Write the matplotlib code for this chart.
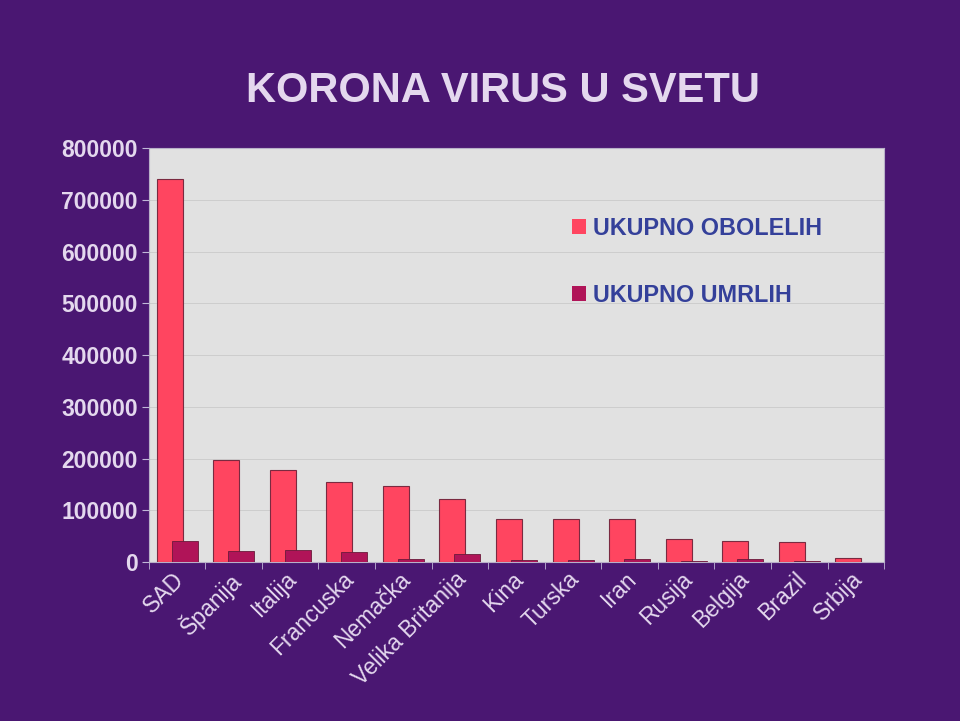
import matplotlib
matplotlib.use("Agg")
import matplotlib.pyplot as plt
import numpy as np
from matplotlib.transforms import ScaledTranslation

countries = ["SAD", "Španija", "Italija", "Francuska", "Nemačka", "Velika Britanija",
             "Kina", "Turska", "Iran", "Rusija", "Belgija", "Brazil", "Srbija"]
oboleli = [740000, 197000, 177000, 154000, 146000, 121000,
           84000, 83000, 83000, 44000, 40000, 38000, 7000]
umrli = [41000, 21000, 24000, 20000, 5000, 16000,
         4600, 3000, 5200, 1500, 6000, 2800, 800]
yticks = [0, 100000, 200000, 300000, 400000, 500000, 600000, 700000, 800000]

plt.rcParams['font.family'] = ['Liberation Sans', 'DejaVu Sans']

BG = '#4a1772'
PLOT = '#e1e1e1'
TXT = '#e4d8ee'

fig = plt.figure(figsize=(9.6, 7.21), dpi=100, facecolor=BG)
ax = fig.add_axes([0.155, 0.2205, 0.766, 0.5742])
ax.set_facecolor(PLOT)

x = np.arange(len(countries))
w = 0.46
ax.bar(x - 0.133, oboleli, width=w, color='#ff4560', edgecolor='#7a2a40', linewidth=0.8,
       label='UKUPNO OBOLELIH', zorder=3)
ax.bar(x + 0.133, umrli, width=w, color='#b01458', edgecolor='#6a1a3a', linewidth=0.6,
       label='UKUPNO UMRLIH', zorder=4)

ax.set_xlim(-0.5, len(countries) - 0.5)
ax.set_ylim(0, 800000)
ax.set_yticks(yticks)
ax.set_yticklabels([str(v) for v in yticks], fontsize=16.5, fontweight='bold', color=TXT)
ax.yaxis.grid(True, color='#cdcdcd', linewidth=0.7, zorder=0)
ax.set_axisbelow(True)

ax.set_xticks(x)
ax.set_xticklabels(countries, rotation=45, ha='right', rotation_mode='anchor',
                   fontsize=16.5, color=TXT)
ax.tick_params(axis='x', length=0, pad=4)
offset = ScaledTranslation(-5 / 100, 0, fig.dpi_scale_trans)
for lab in ax.get_xticklabels():
    lab.set_transform(lab.get_transform() + offset)
ax.set_xticks(np.arange(-0.5, len(countries)), minor=True)
ax.tick_params(axis='x', which='minor', length=5, color='#c0b8d8', direction='out')
ax.tick_params(axis='y', length=5, color='#c0b8d8', pad=3)

for s in ax.spines.values():
    s.set_color('#b8b0c8')
    s.set_linewidth(0.8)

fig.text(0.524, 0.874, 'KORONA VIRUS U SVETU', ha='center', va='center',
         fontsize=30, fontweight='bold', color=TXT)

leg = ax.legend(loc='upper left', bbox_to_anchor=(0.5627, 0.856), frameon=False,
                prop={'size': 16.8, 'weight': 'bold'}, labelspacing=1.88,
                handlelength=0.62, handleheight=0.62, handletextpad=0.3,
                borderaxespad=0)
for t in leg.get_texts():
    t.set_color('#34409a')
for h in leg.legend_handles:
    h.set_linewidth(0)

fig.savefig('out.png', dpi=100, facecolor=BG)
